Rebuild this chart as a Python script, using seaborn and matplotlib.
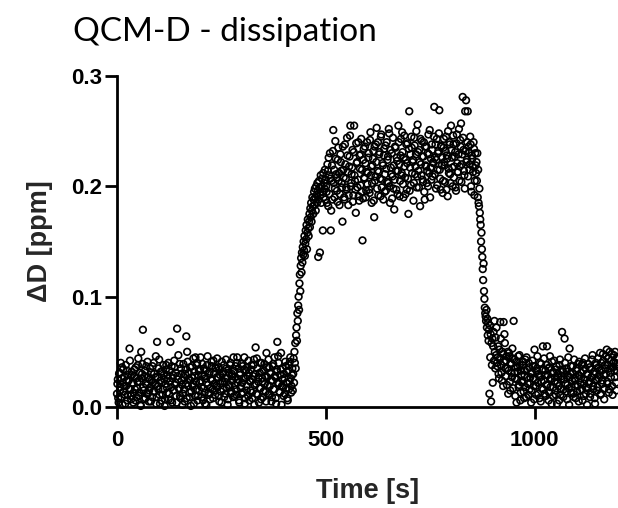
import numpy as np
import pandas as pd
import matplotlib
matplotlib.use("Agg")
import matplotlib.pyplot as plt
import seaborn as sns

# ---------------- data ----------------
# baseline, even seconds t = 0..420 s
base_t = np.arange(0, 421, 2)
base_dD = [
    .012, .025, .004, .031, .018, .009, .036, .022, .014, .027, .003, .019, .033, .011, .024, .053, .016, .007, .029, .021,
    .013, .034, .006, .026, .017, .038, .010, .023, .002, .050, .030, .070, .015, .028, .008, .037, .020, .012, .005, .025,
    .018, .031, .009, .022, .040, .014, .027, .003, .059, .019, .035, .011, .024, .006, .032, .016, .029, .001, .021, .038,
    .013, .026, .007, .033, .059, .018, .004, .029, .015, .036, .022, .010, .071, .025, .017, .039, .008, .030, .020, .012,
    .027, .005, .034, .064, .050, .019, .031, .009, .024, .014, .037, .021, .003, .028, .045, .016, .040, .010, .033, .022,
    .045, .018, .029, .006, .035, .013, .026, .002, .038, .020, .011, .032, .017, .041, .024, .008, .030, .015, .036, .019,
    .044, .027, .010, .034, .021, .004, .030, .016, .038, .023, .012, .035, .026, .007, .031, .018, .040, .014, .028, .009,
    .033, .020, .037, .011, .045, .025, .006, .029, .017, .039, .022, .013, .034, .003, .026, .019, .036, .010, .031, .024,
    .015, .038, .008, .028, .043, .020, .054, .012, .035, .023, .004, .031, .017, .040, .026, .009, .033, .021, .014, .049,
    .027, .011, .036, .019, .030, .005, .024, .039, .016, .028, .008, .032, .059, .046, .021, .013, .034, .002, .025, .018,
    .030, .012, .037, .022, .008, .033, .016, .041, .026, .019, .035,
]
# baseline, odd seconds t = 1..419 s
base2_t = np.arange(1, 420, 2)
base2_dD = [
    .021, .008, .030, .015, .040, .026, .002, .034, .019, .011, .038, .024, .006, .029, .017, .042, .010, .032, .022, .004,
    .028, .016, .036, .009, .023, .044, .013, .031, .001, .026, .039, .018, .007, .033, .021, .012, .041, .027, .015, .035,
    .005, .024, .037, .014, .030, .020, .046, .009, .027, .016, .043, .003, .032, .022, .011, .038, .025, .007, .034, .018,
    .029, .040, .012, .023, .006, .037, .026, .015, .042, .020, .031, .004, .028, .047, .017, .010, .035, .024, .002, .039,
    .016, .030, .021, .008, .041, .025, .013, .036, .001, .027, .019, .044, .032, .010, .023, .038, .006, .029, .015, .034,
    .024, .009, .039, .017, .028, .003, .033, .022, .046, .013, .030, .007, .025, .037, .016, .042, .021, .011, .035, .027,
    .018, .036, .005, .029, .014, .041, .023, .032, .009, .026, .043, .017, .002, .034, .020, .038, .012, .030, .024, .045,
    .010, .027, .016, .040, .022, .035, .004, .031, .019, .012, .037, .026, .045, .008, .033, .015, .028, .042, .006, .023,
    .034, .013, .025, .038, .002, .030, .021, .044, .011, .027, .017, .040, .007, .032, .023, .014, .039, .028, .005, .036,
    .020, .043, .012, .031, .024, .009, .037, .016, .045, .027, .003, .034, .022, .040, .014, .029, .049, .019, .035, .010,
    .026, .041, .017, .032, .006, .038, .023, .045, .013, .029,
]
# adsorption rise, t = 421..500 s every 1 s
rise_t = np.arange(421, 501, 1)
rise_dD = [
    .015, .030, .044, .022, .050, .040, .058, .035, .065, .072,
    .060, .085, .078, .092, .100, .088, .112, .120, .105, .128,
    .135, .122, .140, .131, .145, .138, .150, .142, .155, .137,
    .148, .160, .152, .165, .143, .158, .170, .162, .155, .168,
    .175, .163, .180, .172, .185, .168, .178, .190, .182, .175,
    .188, .195, .183, .198, .190, .178, .200, .192, .185, .203,
    .196, .136, .188, .205, .199, .140, .192, .210, .185, .200,
    .207, .195, .160, .212, .190, .203, .198, .215, .188, .206,
]
# plateau, even seconds t = 502..860 s
plat_t = np.arange(502, 861, 2)
plat_dD = [
    .195, .220, .182, .210, .230, .160, .205, .188, .251, .215,
    .198, .225, .208, .186, .235, .212, .193, .222, .203, .168,
    .215, .190, .238, .207, .197, .228, .183, .218, .246, .200,
    .211, .233, .192, .255, .205, .176, .221, .199, .240, .187,
    .216, .229, .195, .151, .224, .208, .236, .190, .213, .202,
    .226, .197, .242, .210, .185, .219, .232, .172, .205, .238,
    .253, .214, .192, .229, .207, .245, .199, .221, .188, .234,
    .211, .196, .240, .224, .203, .248, .185, .217, .230, .209,
    .198, .179, .236, .214, .226, .193, .255, .220, .205, .243,
    .212, .231, .190, .246, .208, .224, .197, .239, .175, .268,
    .217, .201, .235, .222, .187, .244, .211, .229, .199, .256,
    .214, .233, .182, .220, .241, .206, .227, .195, .236, .218,
    .203, .230, .247, .212, .190, .225, .238, .209, .221, .272,
    .226, .198, .243, .215, .232, .269, .207, .237, .219, .194,
    .235, .222, .204, .245, .228, .191, .216, .240, .211, .255,
    .226, .200, .238, .218, .231, .196, .247, .213, .229, .205,
    .242, .257, .220, .281, .233, .210, .268, .278, .224, .268,
    .236, .215, .245, .200, .228, .218, .240, .192, .230, .212,
]
# plateau, odd seconds t = 501..859 s
plat2_t = np.arange(501, 860, 2)
plat2_dD = [
    .200, .185, .214, .226, .193, .207, .178, .219, .232, .203,
    .190, .241, .211, .196, .224, .205, .183, .229, .214, .199,
    .236, .208, .188, .220, .199, .244, .213, .192, .227, .255,
    .203, .217, .186, .231, .210, .197, .239, .222, .206, .191,
    .228, .201, .243, .215, .189, .234, .207, .221, .196, .240,
    .212, .230, .194, .249, .218, .203, .225, .187, .236, .209,
    .222, .198, .240, .213, .231, .191, .247, .206, .219, .228,
    .195, .237, .216, .204, .227, .252, .200, .233, .211, .189,
    .244, .219, .206, .235, .197, .223, .214, .240, .191, .228,
    .210, .249, .202, .226, .218, .193, .238, .221, .207, .234,
    .196, .229, .245, .212, .224, .203, .237, .218, .250, .209,
    .231, .199, .222, .243, .210, .227, .204, .240, .188, .219,
    .236, .214, .200, .229, .251, .217, .206, .233, .222, .245,
    .211, .238, .224, .201, .230, .248, .215, .197, .236, .226,
    .205, .243, .219, .232, .197, .225, .250, .212, .238, .203,
    .233, .217, .246, .208, .227, .199, .239, .221, .213, .252,
    .218, .236, .204, .229, .244, .214, .198, .232, .222, .240,
    .209, .231, .220, .238, .195, .225, .213, .234, .205, .219,
]
# rinse / drop, t = 861..910 s every 1 s
drop_t = np.arange(861, 911, 1)
drop_dD = [
    .222, .205, .230, .190, .215, .185, .182, .198, .176, .170,
    .165, .150, .158, .143, .136, .125, .115, .130, .105, .098,
    .090, .085, .082, .078, .088, .072, .080, .065, .076, .060,
    .070, .012, .074, .045, .066, .005, .058, .038, .062, .022,
    .055, .068, .042, .078, .050, .035, .063, .047, .072, .040,
]
# tail, even seconds t = 912..1200 s
tail_t = np.arange(912, 1201, 2)
tail_dD = [
    .045, .030, .052, .077, .038, .024, .048, .077, .066, .035,
    .042, .020, .050, .033, .046, .015, .039, .027, .044, .078,
    .031, .010, .041, .025, .036, .018, .047, .006, .033, .022,
    .038, .014, .029, .043, .009, .034, .021, .040, .016, .027,
    .004, .031, .037, .019, .052, .025, .011, .035, .022, .030,
    .008, .027, .039, .017, .055, .024, .012, .033, .020, .055,
    .029, .006, .036, .018, .026, .041, .010, .031, .023, .015,
    .034, .003, .027, .019, .038, .011, .025, .068, .032, .016,
    .062, .021, .035, .007, .028, .017, .053, .030, .013, .024,
    .037, .009, .026, .020, .033, .014, .039, .005, .028, .022,
    .031, .016, .040, .010, .025, .035, .018, .002, .029, .021,
    .036, .012, .027, .043, .019, .030, .008, .024, .038, .015,
    .044, .026, .033, .011, .040, .021, .048, .029, .017, .035,
    .046, .023, .038, .013, .050, .031, .042, .019, .036, .047,
    .027, .040, .015, .033, .044,
]
# tail, odd seconds t = 911..1199 s
tail2_t = np.arange(911, 1200, 2)
tail2_dD = [
    .037, .055, .026, .044, .062, .031, .050, .019, .041, .058,
    .028, .046, .035, .012, .049, .023, .040, .031, .053, .017,
    .043, .026, .036, .004, .032, .046, .020, .038, .013, .029,
    .024, .041, .008, .033, .018, .045, .027, .011, .036, .021,
    .030, .015, .042, .026, .007, .037, .019, .033, .046, .012,
    .028, .040, .005, .023, .034, .016, .044, .029, .010, .038,
    .020, .035, .013, .046, .025, .003, .031, .018, .042, .027,
    .011, .037, .022, .030, .006, .043, .016, .028, .034, .009,
    .025, .040, .014, .032, .020, .045, .002, .027, .037, .018,
    .031, .012, .043, .024, .008, .035, .019, .029, .041, .015,
    .026, .038, .006, .033, .021, .044, .012, .030, .017, .039,
    .023, .009, .034, .027, .047, .016, .032, .003, .040, .025,
    .018, .036, .029, .049, .012, .033, .024, .042, .007, .038,
    .030, .052, .021, .044, .016, .035, .027, .048, .011, .040,
    .033, .050, .022, .037, .045,
]

x_ticks = [0, 500, 1000]
y_ticks = [0.0, 0.1, 0.2, 0.3]
title = "QCM-D - dissipation"
x_label = "Time [s]"
y_label = "ΔD [ppm]"

df = pd.DataFrame({
    "t": np.concatenate([base_t, base2_t, rise_t, plat_t, plat2_t, drop_t, tail_t, tail2_t]),
    "dD": np.concatenate([base_dD, base2_dD, rise_dD, plat_dD, plat2_dD, drop_dD, tail_dD, tail2_dD]),
}).sort_values("t")

# ---------------- plotting ----------------
sns.set_style("ticks")
plt.rcParams["font.family"] = ["Liberation Sans", "DejaVu Sans"]
label_font = ["Liberation Sans", "DejaVu Sans"]

fig = plt.figure(figsize=(6.18, 5.08), dpi=100)
ax = fig.add_axes([117 / 618, 101 / 508, 501 / 618, 331 / 508])

sns.scatterplot(data=df, x="t", y="dD", ax=ax, marker="o", s=23,
                facecolors="none", edgecolor="black", linewidth=1.2,
                clip_on=False, zorder=3, legend=False)

ax.set_xlim(0, 1200)
ax.set_ylim(0, 0.3)
ax.set_xticks(x_ticks)
ax.set_yticks(y_ticks)
ax.set_xticklabels([str(v) for v in x_ticks])
ax.set_yticklabels([f"{v:.1f}" for v in y_ticks])

for side in ("top", "right"):
    ax.spines[side].set_visible(False)
for side in ("left", "bottom"):
    ax.spines[side].set_linewidth(2.0)
    ax.spines[side].set_color("black")

ax.tick_params(axis="both", direction="out", length=8.5, width=2.0, color="black",
               labelcolor="black")
ax.tick_params(axis="x", pad=8)
ax.tick_params(axis="y", pad=2)
for lab in ax.get_xticklabels() + ax.get_yticklabels():
    lab.set_fontsize(16)
    lab.set_fontweight("bold")
    lab.set_family(label_font)

ax.set_xlabel(x_label, fontsize=19.5, fontweight="bold", va="top", family=label_font)
ax.set_ylabel(y_label, fontsize=19.5, fontweight="bold", family=label_font)
ax.xaxis.set_label_coords(0.5, -0.2145)
ax.yaxis.set_label_coords(-0.128, 0.5)

fig.text(73 / 618, 1 - 41 / 508, title, fontsize=24, family=["Lato", "DejaVu Sans"],
         ha="left", va="baseline", color="black")

fig.savefig("out.png", dpi=100)
